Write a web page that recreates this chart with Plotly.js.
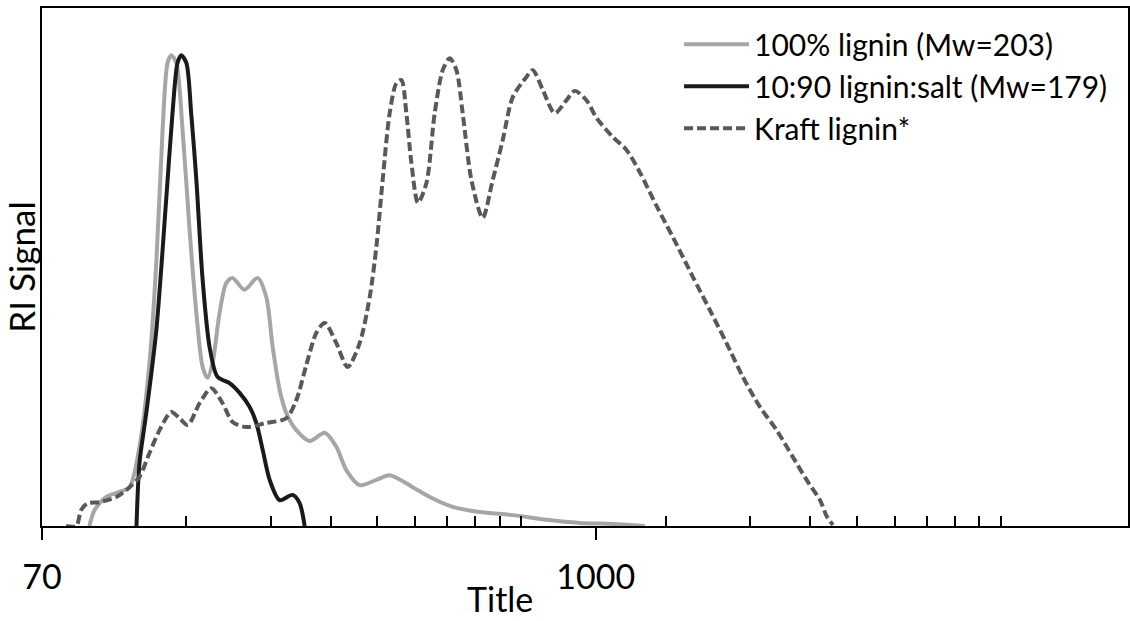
<!DOCTYPE html>
<html>
<head>
<meta charset="utf-8">
<script src="https://cdn.plot.ly/plotly-3.0.1.min.js"></script>
<style>
html,body{margin:0;padding:0;background:#fff;}
#chart{width:1130px;height:621px;}
</style>
</head>
<body>
<div id="chart"></div>
<script>
// Molecular weight (x) and RI signal (y, arbitrary units)
var ligninMW = [87.9, 90.1, 95.3, 101.6, 106.6, 111.8, 117.3, 121.2, 124.9, 127.9, 130.2, 133.4, 137.5, 142.2, 146.9, 151.4, 155.0, 158.8, 164.2, 169.6, 174.8, 185.1, 197.1, 205.5, 211.9, 219.1, 226.2, 237.4, 253.2, 272.1, 287.7, 301.8, 321.8, 348.7, 371.7, 415.2, 450.5, 503.0, 572.8, 671.3, 789.3, 926.0, 1085.1, 1265.7];
var ligninRI = [0, 3.1, 5.6, 6.6, 7.5, 15.3, 31.5, 50.8, 76.4, 89.4, 90.9, 89.4, 76.4, 57.1, 41.1, 30.7, 28.6, 31.5, 41.1, 46.9, 47.9, 45.6, 47.9, 44.2, 34.6, 26.3, 21.8, 18.5, 16.4, 18.0, 15.3, 10.8, 7.9, 8.9, 9.8, 7.5, 5.6, 3.7, 2.7, 2.1, 1.2, 0.6, 0.4, 0];

var saltMW = [110.2, 111.8, 115.5, 121.2, 127.2, 131.0, 134.2, 136.6, 140.0, 143.3, 146.9, 151.4, 156.5, 162.6, 172.3, 180.8, 189.7, 195.9, 202.0, 208.9, 219.1, 233.2, 241.2, 247.1];
var saltRI = [0, 12.2, 21.8, 37.8, 63.5, 79.7, 89.4, 90.9, 89.4, 79.7, 66.8, 47.5, 34.6, 28.8, 27.6, 25.7, 23.0, 19.9, 14.7, 8.9, 5.0, 6.0, 4.4, 0];

var kraftMW = [78.6, 82.5, 84.5, 87.2, 92.3, 100, 106.6, 111.8, 117.3, 123.1, 130.2, 135.5, 141.0, 149.2, 157.8, 166.6, 174.8, 186.7, 205.5, 226.2, 237.4, 249.1, 261.4, 272.1, 287.7, 303.8, 321.8, 337.7, 348.7, 359.4, 371.7, 383.9, 393.2, 402.7, 412.6, 425.8, 443.4, 461.4, 479.5, 495.9, 512.1, 527.8, 550.4, 581.0, 609.7, 639.7, 671.3, 716.9, 739.1, 775.3, 821.4, 868.9, 904.2, 956.3, 1003.5, 1085.1, 1159.0, 1235.5, 1338.7, 1447.6, 1593.7, 1729.5, 1873.8, 2026.3, 2198.9, 2383.5, 2577.4, 2752.8, 2934.9, 3031.0, 3124.4];
var kraftRI = [0, 0, 3.1, 4.4, 4.6, 5.6, 7.5, 9.5, 14.1, 18.5, 22.0, 20.8, 19.5, 23.7, 26.6, 23.7, 20.1, 19.1, 19.9, 20.8, 24.3, 31.1, 37.3, 39.2, 35.3, 30.7, 35.3, 44.2, 53.9, 66.8, 79.7, 85.5, 86.1, 79.7, 70.1, 62.4, 66.2, 79.7, 88.0, 90.3, 88.0, 79.7, 66.8, 59.5, 66.8, 74.5, 82.8, 86.7, 88.0, 84.2, 79.7, 82.2, 84.0, 82.2, 78.8, 75.1, 72.6, 68.3, 61.8, 55.8, 48.1, 41.7, 35.3, 28.8, 23.0, 18.5, 13.3, 8.9, 5.0, 1.9, 0.2];

var seriesNames = ['100% lignin (Mw=203)', '10:90 lignin:salt (Mw=179)', 'Kraft lignin*'];
var tickVals = [70, 1000];
var tickText = ['70', '1000'];
var minorTickVals = [140, 210, 280, 350, 420, 490, 560, 630, 700, 1400, 2100, 2800, 3500, 4200, 4900, 5600, 6300, 7000];
var xTitle = 'Title';
var yTitle = 'RI Signal';

var FONT = 'Lato, "Open Sans", sans-serif';

var traces = [
  {x: ligninMW, y: ligninRI, name: seriesNames[0], type: 'scatter', mode: 'lines',
   line: {color: '#a6a6a6', width: 4, shape: 'spline', smoothing: 0.8}, legendgroup: 'a'},
  {x: saltMW, y: saltRI, name: seriesNames[1], type: 'scatter', mode: 'lines',
   line: {color: '#1a1a1a', width: 4, shape: 'spline', smoothing: 0.8}, legendgroup: 'b'},
  {x: kraftMW, y: kraftRI, name: seriesNames[2], type: 'scatter', mode: 'lines',
   line: {color: '#595959', width: 4, dash: '9px,4px', shape: 'spline', smoothing: 0.8}, legendgroup: 'c'}
];

var layout = {
  width: 1130, height: 621,
  margin: {l: 42, r: 2, t: 8, b: 95},
  paper_bgcolor: '#ffffff', plot_bgcolor: '#ffffff',
  font: {family: FONT, color: '#000000'},
  showlegend: true,
  legend: {x: 0.5866, y: 0.98, xanchor: 'left', yanchor: 'top',
           font: {family: FONT, size: 30, color: '#000'}, itemwidth: 65,
           bgcolor: 'rgba(0,0,0,0)', traceorder: 'grouped', tracegroupgap: 0},
  xaxis: {
    type: 'log', range: [Math.log10(70), 4.110], autorange: false,
    showline: true, linecolor: '#000', linewidth: 2, mirror: true,
    showgrid: false, zeroline: false,
    tickmode: 'array', tickvals: tickVals, ticktext: tickText,
    ticks: 'outside', ticklen: 12, tickwidth: 2, tickcolor: '#000',
    ticklabelstandoff: 8,
    tickfont: {family: FONT, size: 34, color: '#000'},
    minor: {tickmode: 'array', tickvals: minorTickVals, ticks: 'inside', ticklen: 10, tickwidth: 2, tickcolor: '#000', showgrid: false},
    title: {text: ''}
  },
  yaxis: {
    range: [0, 100], autorange: false,
    showline: true, linecolor: '#000', linewidth: 2, mirror: true,
    showgrid: false, zeroline: false, showticklabels: false, ticks: '',
    title: {text: yTitle, font: {family: FONT, size: 35, color: '#000'}, standoff: 2}
  },
  annotations: [
    {text: xTitle, xref: 'paper', yref: 'paper', x: (500 - 42) / 1086, y: -0.097,
     xanchor: 'center', yanchor: 'top', showarrow: false,
     font: {family: FONT, size: 34, color: '#000'}}
  ]
};

Plotly.newPlot('chart', traces, layout, {displayModeBar: false, staticPlot: true});
</script>
</body>
</html>
